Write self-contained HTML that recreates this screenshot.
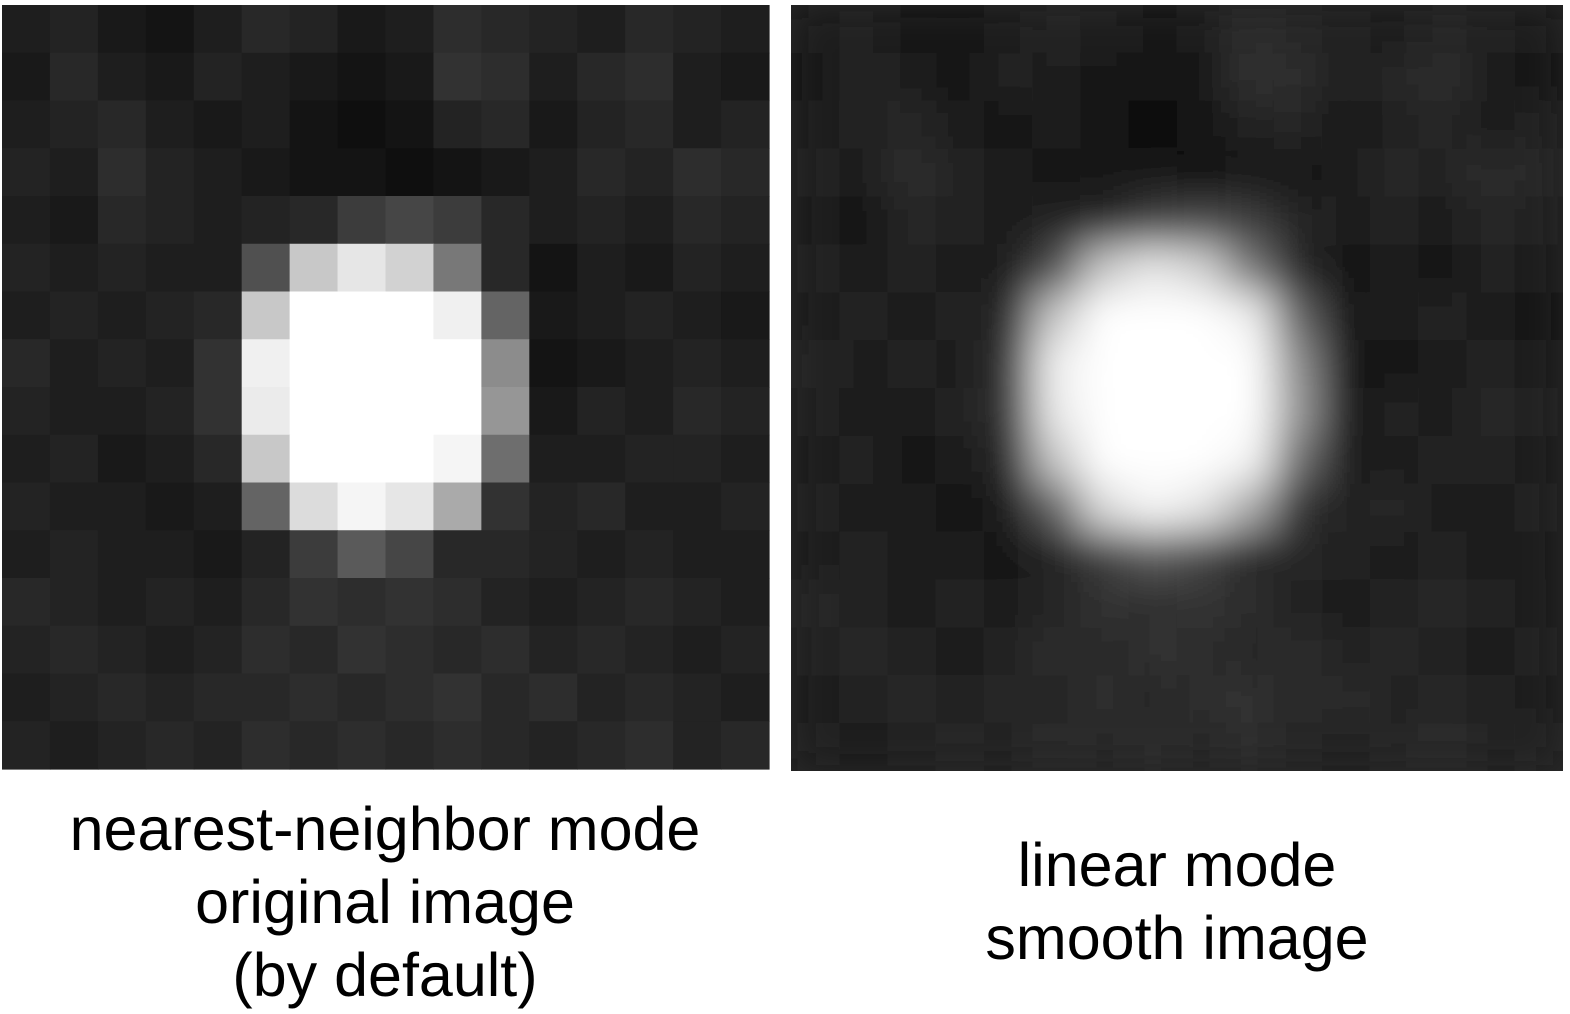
<!DOCTYPE html>
<html><head><meta charset="utf-8"><style>
html,body{margin:0;padding:0;background:#fff;width:1570px;height:1014px;overflow:hidden}
.cap{position:absolute;font-family:"Liberation Sans",sans-serif;font-size:61px;color:#000;text-align:center;line-height:73px}
</style></head><body>
<svg id="s" width="1570" height="1014" style="position:absolute;left:0;top:0">
<defs><filter id="bl" filterUnits="userSpaceOnUse" x="700" y="-100" width="960" height="980"><feGaussianBlur stdDeviation="20"/></filter>
<clipPath id="cr"><rect x="791" y="5" width="772" height="766"/></clipPath></defs>
<g id="left"></g>
<g clip-path="url(#cr)"><rect x="791" y="5" width="772" height="766" fill="#222"/><g id="right" filter="url(#bl)"></g></g>
</svg>
<div class="cap" style="left:0;width:770px;top:793px">nearest-neighbor mode<br>original image<br>(by default)</div>
<div class="cap" style="left:791px;width:772px;top:829px">linear mode<br>smooth image</div>
<script>
const rows=[
[30,35,25,20,30,40,35,25,30,45,40,35,30,40,35,30],
[25,40,30,25,35,30,25,20,25,50,45,30,40,45,30,25],
[30,35,40,30,25,30,20,15,20,35,40,25,35,40,30,35],
[35,30,45,35,30,25,20,20,15,20,25,30,40,35,45,40],
[30,25,40,35,30,35,40,60,70,60,40,30,35,30,40,35],
[35,30,35,30,30,80,200,230,210,120,40,20,30,25,35,30],
[30,35,30,35,40,200,255,255,255,240,100,25,30,35,30,25],
[40,30,35,30,50,240,255,255,255,255,140,20,25,30,35,30],
[35,30,30,35,50,235,255,255,255,255,150,25,35,30,40,35],
[30,35,25,30,40,200,255,255,255,245,110,30,30,35,35,30],
[35,30,30,25,30,100,220,245,230,170,50,35,40,30,30,35],
[30,35,30,30,25,35,60,90,70,40,40,35,30,35,30,30],
[40,35,30,35,30,40,50,45,50,45,35,30,35,40,35,30],
[35,40,35,30,35,45,40,50,45,40,45,35,40,35,30,35],
[30,35,40,35,40,40,45,40,45,50,40,45,35,40,35,30],
[35,30,35,40,35,45,40,45,40,45,40,35,40,45,35,40]];
const NS='http://www.w3.org/2000/svg';
function draw(g,x0,y0,w,h){const n=rows.length,cw=w/n,ch=h/n;
rows.forEach((r,i)=>r.forEach((v,j)=>{const e=document.createElementNS(NS,'rect');


e.setAttribute('x',x0+j*cw);e.setAttribute('y',y0+i*ch);e.setAttribute('width',cw+0.6);e.setAttribute('height',ch+0.6);
e.setAttribute('fill',`rgb(${v},${v},${v})`);g.appendChild(e);}));}
draw(document.getElementById('left'),2,5,767,764);
draw(document.getElementById('right'),791,5,772,766);
</script>
</body></html>
